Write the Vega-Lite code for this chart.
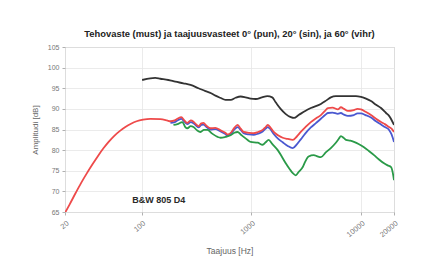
{
  "$schema": "https://vega.github.io/schema/vega-lite/v6.json",
  "autosize": "none",
  "width": 329,
  "height": 165,
  "padding": {"left": 65, "top": 47, "right": 34, "bottom": 48},
  "background": "white",
  "config": {
    "font": "Liberation Sans",
    "view": {"stroke": "#b8b8b8", "strokeWidth": 1},
    "axis": {"gridColor": "#e6e6e6", "gridWidth": 0.8, "domain": false, "tickColor": "#b0b0b0", "labelColor": "#777777", "titleColor": "#666666", "labelFontSize": 7, "titleFontSize": 8, "titleFontWeight": "normal", "labelOverlap": false}
  },
  "title": {"text": "Tehovaste (must) ja taajuusvasteet 0° (pun), 20° (sin), ja 60° (vihr)", "fontSize": 9.4, "fontWeight": "bold", "color": "#222", "offset": 4, "font": "Liberation Sans"},
  "datasets": {
    "curves": [
      {"s": "must", "f": 101, "db": 97.0}, {"s": "must", "f": 120, "db": 97.4}, {"s": "must", "f": 133, "db": 97.5}, {"s": "must", "f": 148, "db": 97.3}, {"s": "must", "f": 175, "db": 97.0}, {"s": "must", "f": 203, "db": 96.6}, {"s": "must", "f": 240, "db": 96.2}, {"s": "must", "f": 279, "db": 95.8}, {"s": "must", "f": 330, "db": 95.0}, {"s": "must", "f": 382, "db": 94.3}, {"s": "must", "f": 430, "db": 93.8}, {"s": "must", "f": 471, "db": 93.2}, {"s": "must", "f": 520, "db": 92.7}, {"s": "must", "f": 582, "db": 92.2}, {"s": "must", "f": 650, "db": 92.2}, {"s": "must", "f": 718, "db": 92.7}, {"s": "must", "f": 800, "db": 93.0}, {"s": "must", "f": 888, "db": 92.8}, {"s": "must", "f": 986, "db": 92.5}, {"s": "must", "f": 1100, "db": 92.4}, {"s": "must", "f": 1250, "db": 92.8}, {"s": "must", "f": 1400, "db": 93.1}, {"s": "must", "f": 1550, "db": 92.8}, {"s": "must", "f": 1668, "db": 91.6}, {"s": "must", "f": 1850, "db": 90.0}, {"s": "must", "f": 2050, "db": 88.8}, {"s": "must", "f": 2290, "db": 88.0}, {"s": "must", "f": 2450, "db": 87.8}, {"s": "must", "f": 2700, "db": 88.5}, {"s": "must", "f": 3100, "db": 89.5}, {"s": "must", "f": 3490, "db": 90.2}, {"s": "must", "f": 4308, "db": 91.2}, {"s": "must", "f": 4800, "db": 92.0}, {"s": "must", "f": 5310, "db": 92.8}, {"s": "must", "f": 5900, "db": 93.1}, {"s": "must", "f": 6560, "db": 93.1}, {"s": "must", "f": 8000, "db": 93.1}, {"s": "must", "f": 9000, "db": 93.1}, {"s": "must", "f": 10000, "db": 92.9}, {"s": "must", "f": 11110, "db": 92.5}, {"s": "must", "f": 12330, "db": 91.9}, {"s": "must", "f": 13710, "db": 91.0}, {"s": "must", "f": 15230, "db": 90.2}, {"s": "must", "f": 16930, "db": 89.0}, {"s": "must", "f": 18040, "db": 88.3}, {"s": "must", "f": 20000, "db": 86.1},

      {"s": "sin", "f": 183, "db": 86.6}, {"s": "sin", "f": 200, "db": 86.8}, {"s": "sin", "f": 212, "db": 87.2}, {"s": "sin", "f": 230, "db": 87.6}, {"s": "sin", "f": 245, "db": 86.9}, {"s": "sin", "f": 261, "db": 86.3}, {"s": "sin", "f": 280, "db": 86.8}, {"s": "sin", "f": 297, "db": 86.5}, {"s": "sin", "f": 315, "db": 85.9}, {"s": "sin", "f": 330, "db": 85.5}, {"s": "sin", "f": 350, "db": 86.1}, {"s": "sin", "f": 366, "db": 86.2}, {"s": "sin", "f": 390, "db": 85.6}, {"s": "sin", "f": 425, "db": 85.0}, {"s": "sin", "f": 470, "db": 85.1}, {"s": "sin", "f": 524, "db": 84.5}, {"s": "sin", "f": 580, "db": 83.9}, {"s": "sin", "f": 607, "db": 83.5}, {"s": "sin", "f": 660, "db": 84.1}, {"s": "sin", "f": 700, "db": 85.0}, {"s": "sin", "f": 750, "db": 85.6}, {"s": "sin", "f": 800, "db": 84.9}, {"s": "sin", "f": 851, "db": 84.1}, {"s": "sin", "f": 950, "db": 83.8}, {"s": "sin", "f": 1050, "db": 83.7}, {"s": "sin", "f": 1150, "db": 84.0}, {"s": "sin", "f": 1269, "db": 84.5}, {"s": "sin", "f": 1350, "db": 85.2}, {"s": "sin", "f": 1410, "db": 85.6}, {"s": "sin", "f": 1500, "db": 85.0}, {"s": "sin", "f": 1600, "db": 83.9}, {"s": "sin", "f": 1750, "db": 82.8}, {"s": "sin", "f": 1933, "db": 81.9}, {"s": "sin", "f": 2150, "db": 81.0}, {"s": "sin", "f": 2390, "db": 80.5}, {"s": "sin", "f": 2600, "db": 81.4}, {"s": "sin", "f": 2825, "db": 82.6}, {"s": "sin", "f": 3100, "db": 84.0}, {"s": "sin", "f": 3490, "db": 85.5}, {"s": "sin", "f": 3900, "db": 86.6}, {"s": "sin", "f": 4308, "db": 87.6}, {"s": "sin", "f": 4700, "db": 88.5}, {"s": "sin", "f": 4990, "db": 89.0}, {"s": "sin", "f": 5500, "db": 89.1}, {"s": "sin", "f": 6160, "db": 88.8}, {"s": "sin", "f": 6560, "db": 89.0}, {"s": "sin", "f": 7000, "db": 88.6}, {"s": "sin", "f": 7600, "db": 88.3}, {"s": "sin", "f": 8600, "db": 88.5}, {"s": "sin", "f": 9300, "db": 88.9}, {"s": "sin", "f": 10000, "db": 88.9}, {"s": "sin", "f": 11000, "db": 88.5}, {"s": "sin", "f": 12330, "db": 87.9}, {"s": "sin", "f": 13700, "db": 87.0}, {"s": "sin", "f": 15230, "db": 86.2}, {"s": "sin", "f": 16500, "db": 85.6}, {"s": "sin", "f": 18040, "db": 84.9}, {"s": "sin", "f": 19000, "db": 83.8}, {"s": "sin", "f": 20000, "db": 82.0},

      {"s": "pun", "f": 20, "db": 64.8}, {"s": "pun", "f": 22, "db": 66.8}, {"s": "pun", "f": 25, "db": 69.6}, {"s": "pun", "f": 28, "db": 72.0}, {"s": "pun", "f": 31.5, "db": 74.3}, {"s": "pun", "f": 35.5, "db": 76.5}, {"s": "pun", "f": 40, "db": 78.6}, {"s": "pun", "f": 45, "db": 80.5}, {"s": "pun", "f": 50, "db": 82.0}, {"s": "pun", "f": 56, "db": 83.4}, {"s": "pun", "f": 63, "db": 84.6}, {"s": "pun", "f": 71, "db": 85.6}, {"s": "pun", "f": 80, "db": 86.4}, {"s": "pun", "f": 90, "db": 87.0}, {"s": "pun", "f": 103, "db": 87.4}, {"s": "pun", "f": 120, "db": 87.6}, {"s": "pun", "f": 148, "db": 87.5}, {"s": "pun", "f": 170, "db": 87.2}, {"s": "pun", "f": 183, "db": 87.0}, {"s": "pun", "f": 200, "db": 87.2}, {"s": "pun", "f": 212, "db": 87.6}, {"s": "pun", "f": 230, "db": 88.0}, {"s": "pun", "f": 245, "db": 87.2}, {"s": "pun", "f": 261, "db": 86.6}, {"s": "pun", "f": 280, "db": 87.2}, {"s": "pun", "f": 297, "db": 86.9}, {"s": "pun", "f": 315, "db": 86.2}, {"s": "pun", "f": 330, "db": 85.8}, {"s": "pun", "f": 350, "db": 86.5}, {"s": "pun", "f": 366, "db": 86.6}, {"s": "pun", "f": 390, "db": 85.9}, {"s": "pun", "f": 425, "db": 85.3}, {"s": "pun", "f": 470, "db": 85.4}, {"s": "pun", "f": 524, "db": 84.8}, {"s": "pun", "f": 580, "db": 84.2}, {"s": "pun", "f": 607, "db": 83.8}, {"s": "pun", "f": 660, "db": 84.4}, {"s": "pun", "f": 700, "db": 85.4}, {"s": "pun", "f": 750, "db": 86.1}, {"s": "pun", "f": 800, "db": 85.2}, {"s": "pun", "f": 851, "db": 84.4}, {"s": "pun", "f": 950, "db": 84.2}, {"s": "pun", "f": 1050, "db": 84.1}, {"s": "pun", "f": 1150, "db": 84.4}, {"s": "pun", "f": 1269, "db": 84.9}, {"s": "pun", "f": 1350, "db": 85.6}, {"s": "pun", "f": 1410, "db": 86.1}, {"s": "pun", "f": 1500, "db": 85.4}, {"s": "pun", "f": 1600, "db": 84.4}, {"s": "pun", "f": 1750, "db": 83.6}, {"s": "pun", "f": 1933, "db": 83.0}, {"s": "pun", "f": 2150, "db": 82.7}, {"s": "pun", "f": 2390, "db": 82.5}, {"s": "pun", "f": 2600, "db": 83.3}, {"s": "pun", "f": 2825, "db": 84.4}, {"s": "pun", "f": 3100, "db": 85.5}, {"s": "pun", "f": 3490, "db": 86.8}, {"s": "pun", "f": 3900, "db": 87.7}, {"s": "pun", "f": 4308, "db": 88.5}, {"s": "pun", "f": 4700, "db": 89.5}, {"s": "pun", "f": 4990, "db": 90.2}, {"s": "pun", "f": 5500, "db": 90.3}, {"s": "pun", "f": 6160, "db": 89.9}, {"s": "pun", "f": 6560, "db": 90.4}, {"s": "pun", "f": 7000, "db": 90.0}, {"s": "pun", "f": 7600, "db": 89.5}, {"s": "pun", "f": 8600, "db": 89.7}, {"s": "pun", "f": 9300, "db": 90.0}, {"s": "pun", "f": 10000, "db": 89.9}, {"s": "pun", "f": 11000, "db": 89.3}, {"s": "pun", "f": 12330, "db": 88.5}, {"s": "pun", "f": 13700, "db": 87.6}, {"s": "pun", "f": 15230, "db": 86.8}, {"s": "pun", "f": 16500, "db": 86.3}, {"s": "pun", "f": 18040, "db": 85.6}, {"s": "pun", "f": 19000, "db": 85.2}, {"s": "pun", "f": 20000, "db": 84.4},

      {"s": "vihr", "f": 195, "db": 86.1}, {"s": "vihr", "f": 212, "db": 86.3}, {"s": "vihr", "f": 235, "db": 86.8}, {"s": "vihr", "f": 250, "db": 85.6}, {"s": "vihr", "f": 261, "db": 85.3}, {"s": "vihr", "f": 280, "db": 85.8}, {"s": "vihr", "f": 297, "db": 85.6}, {"s": "vihr", "f": 320, "db": 84.8}, {"s": "vihr", "f": 344, "db": 84.4}, {"s": "vihr", "f": 370, "db": 84.9}, {"s": "vihr", "f": 398, "db": 84.9}, {"s": "vihr", "f": 440, "db": 84.0}, {"s": "vihr", "f": 492, "db": 83.2}, {"s": "vihr", "f": 524, "db": 83.0}, {"s": "vihr", "f": 580, "db": 83.2}, {"s": "vihr", "f": 647, "db": 83.6}, {"s": "vihr", "f": 700, "db": 84.2}, {"s": "vihr", "f": 750, "db": 84.4}, {"s": "vihr", "f": 800, "db": 83.8}, {"s": "vihr", "f": 851, "db": 83.2}, {"s": "vihr", "f": 920, "db": 82.5}, {"s": "vihr", "f": 986, "db": 82.0}, {"s": "vihr", "f": 1143, "db": 81.8}, {"s": "vihr", "f": 1269, "db": 81.3}, {"s": "vihr", "f": 1350, "db": 81.9}, {"s": "vihr", "f": 1439, "db": 82.5}, {"s": "vihr", "f": 1550, "db": 81.5}, {"s": "vihr", "f": 1741, "db": 80.0}, {"s": "vihr", "f": 1900, "db": 78.4}, {"s": "vihr", "f": 2060, "db": 76.8}, {"s": "vihr", "f": 2250, "db": 75.3}, {"s": "vihr", "f": 2390, "db": 74.4}, {"s": "vihr", "f": 2543, "db": 73.9}, {"s": "vihr", "f": 2700, "db": 74.7}, {"s": "vihr", "f": 2946, "db": 75.9}, {"s": "vihr", "f": 3100, "db": 77.2}, {"s": "vihr", "f": 3274, "db": 78.3}, {"s": "vihr", "f": 3500, "db": 78.7}, {"s": "vihr", "f": 3716, "db": 78.8}, {"s": "vihr", "f": 4000, "db": 78.5}, {"s": "vihr", "f": 4308, "db": 78.3}, {"s": "vihr", "f": 4800, "db": 79.5}, {"s": "vihr", "f": 5310, "db": 80.5}, {"s": "vihr", "f": 5900, "db": 81.8}, {"s": "vihr", "f": 6300, "db": 82.8}, {"s": "vihr", "f": 6560, "db": 83.4}, {"s": "vihr", "f": 7000, "db": 82.9}, {"s": "vihr", "f": 7290, "db": 82.5}, {"s": "vihr", "f": 8000, "db": 82.3}, {"s": "vihr", "f": 8630, "db": 82.0}, {"s": "vihr", "f": 9500, "db": 81.5}, {"s": "vihr", "f": 10650, "db": 80.7}, {"s": "vihr", "f": 11800, "db": 79.8}, {"s": "vihr", "f": 13150, "db": 78.8}, {"s": "vihr", "f": 14500, "db": 77.8}, {"s": "vihr", "f": 16230, "db": 76.8}, {"s": "vihr", "f": 17500, "db": 76.3}, {"s": "vihr", "f": 18800, "db": 75.9}, {"s": "vihr", "f": 19500, "db": 74.5}, {"s": "vihr", "f": 20000, "db": 72.7}
    ],
    "notes": [{"f": 82, "db": 67.9, "label": "B&W 805 D4"}]
  },
  "encoding": {
    "x": {"field": "f", "type": "quantitative", "scale": {"type": "log", "domain": [20, 20000], "nice": false},
          "axis": {"values": [20, 100, 1000, 10000, 20000], "labelAngle": -40, "labelAlign": "right", "labelBaseline": "top", "labelPadding": 4, "labelFontSize": 7.5, "tickSize": 3, "title": "Taajuus [Hz]", "titlePadding": 8, "titleFontSize": 8.5, "labelOverlap": false, "format": "d"}},
    "y": {"field": "db", "type": "quantitative", "scale": {"domain": [65, 105], "nice": false},
          "axis": {"values": [65, 70, 75, 80, 85, 90, 95, 100, 105], "tickSize": 3, "labelPadding": 3, "title": "Amplitudi [dB]", "titlePadding": 8, "labelOverlap": false, "labelBound": false, "format": "d"}}
  },
  "layer": [
    {
      "data": {"name": "curves"},
      "mark": {"type": "line", "strokeWidth": 1.8, "clip": true, "interpolate": "monotone"},
      "encoding": {
        "color": {"field": "s", "type": "nominal", "legend": null,
                  "scale": {"domain": ["must", "sin", "pun", "vihr"], "range": ["#333333", "#4a58d0", "#ee4a4a", "#2a9a48"]}},
        "order": {"field": "f", "type": "quantitative"}
      }
    },
    {
      "data": {"name": "notes"},
      "mark": {"type": "text", "align": "left", "baseline": "middle", "fontWeight": "bold", "fontSize": 9, "color": "#2a2a2a", "font": "Liberation Sans"},
      "encoding": {
        "text": {"field": "label"}
      }
    }
  ]
}
